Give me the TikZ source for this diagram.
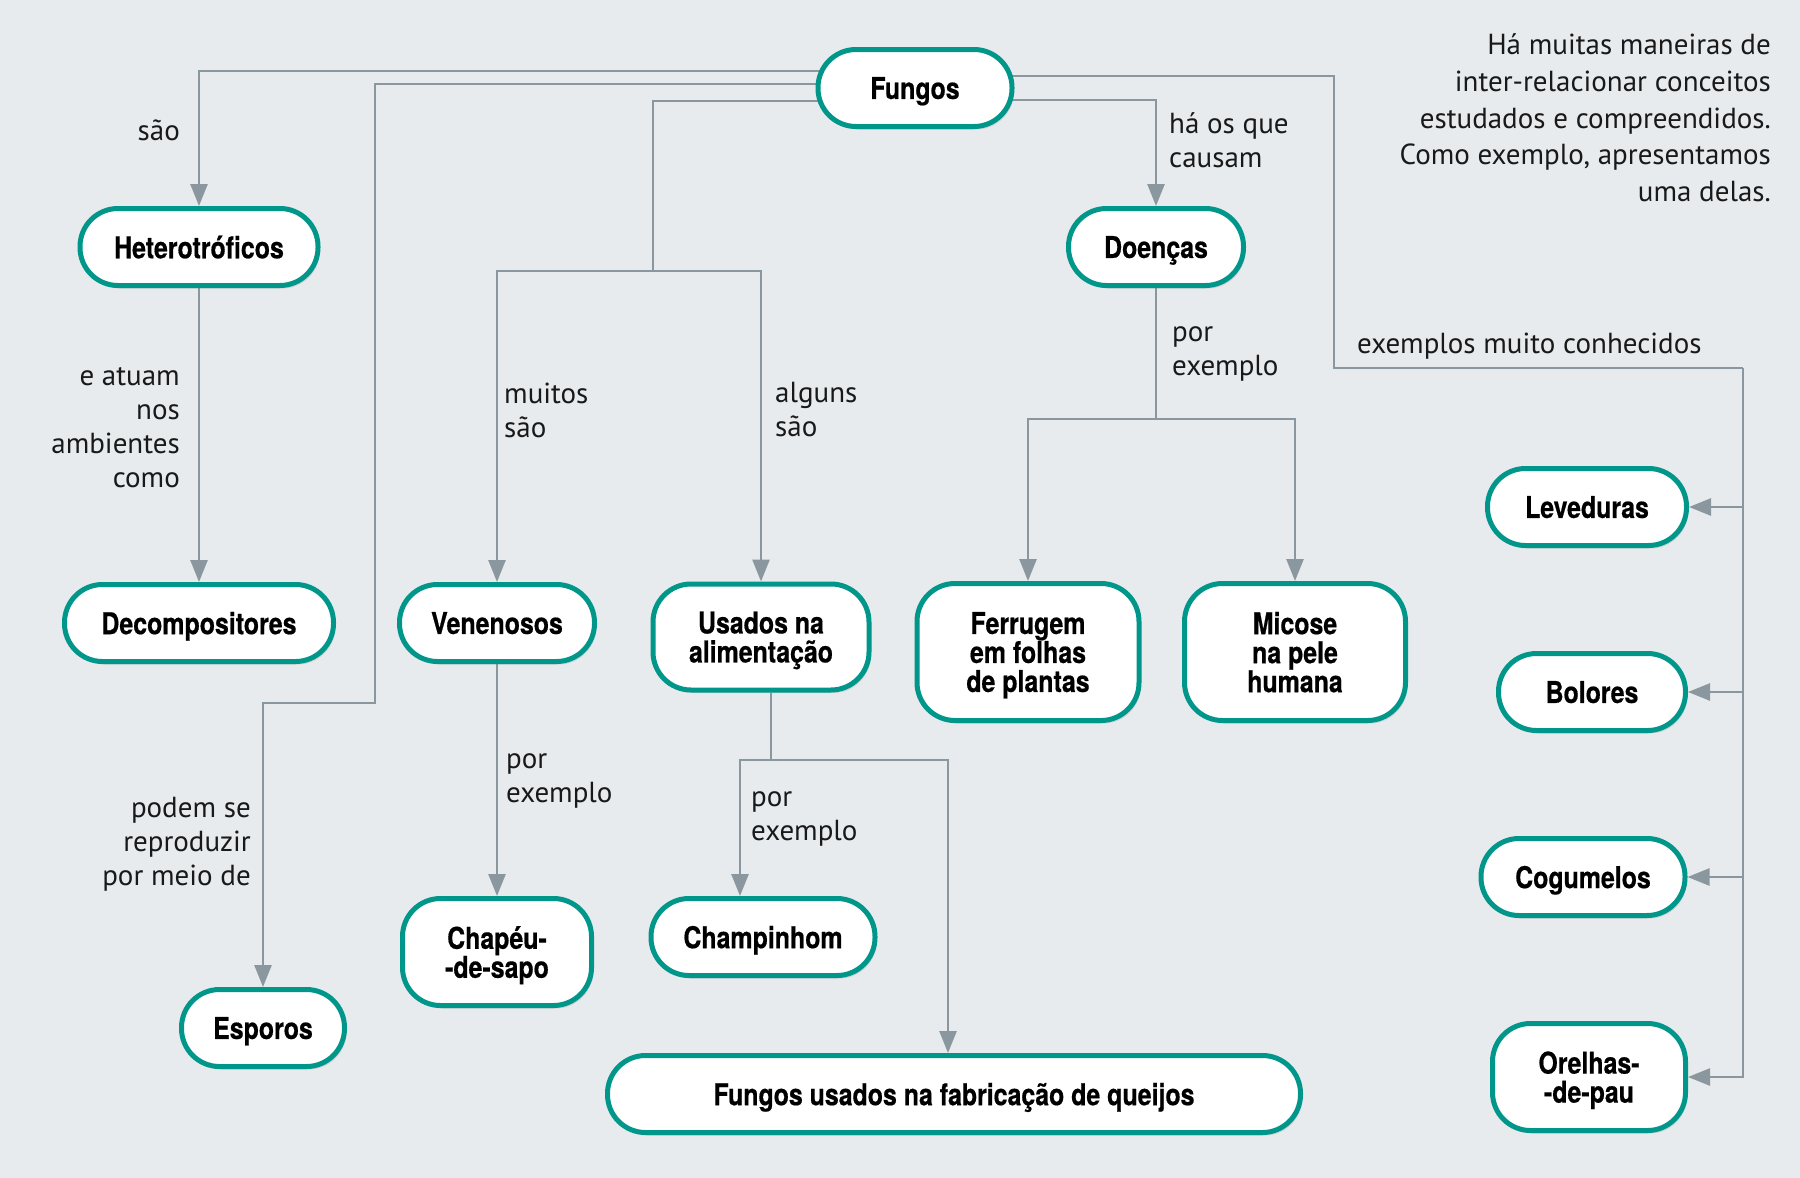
\documentclass[tikz,border=0pt]{standalone}
\usepackage{fontspec}
\setmainfont{PT Sans}
\newfontfamily\boxfont[FakeStretch=0.83, FakeBold=0.5]{TeX Gyre Heros}
\usetikzlibrary{shapes,arrows.meta,shadows,positioning}
\definecolor{fundo}{RGB}{232,235,238}
\definecolor{verde}{RGB}{0,151,138}
\definecolor{cinza}{RGB}{138,151,158}
\pgfdeclarelayer{fundo}
\pgfsetlayers{fundo,main}
\tikzstyle{conceito} = [rectangle, draw=verde, line width=5pt, fill=white,
    rounded corners=38pt, minimum height=77pt, align=center, text depth=0pt,
    font=\boxfont\bfseries\fontsize{30}{29}\selectfont,
    drop shadow={shadow xshift=2pt, shadow yshift=-3pt, opacity=0.25}]
\tikzstyle{rotulo} = [font=\fontsize{29}{34}\selectfont, text=black!90, inner sep=0pt]
\tikzstyle{ligacao} = [draw=cinza, line width=2.6pt]
\tikzstyle{linha} = [ligacao, -{Triangle[length=22pt,width=17pt]}]

\begin{document}
\begin{tikzpicture}[x=1pt, y=-1pt]
\useasboundingbox (0,0) rectangle (1800,1178);

\node [conceito, minimum width=194pt] (fungos) at (915,88) {Fungos};
\node [conceito, minimum width=238pt] (hetero) at (199,247) {Heterotróficos};
\node [conceito, minimum width=269pt] (decomp) at (199,623) {Decompositores};
\node [conceito, minimum width=163pt] (esporos) at (263,1028) {Esporos};
\node [conceito, minimum width=195pt] (venenosos) at (497,623) {Venenosos};
\node [conceito, minimum width=189pt, minimum height=107pt] (chapeu) at (497,952) {Chapéu-\\-de-sapo};
\node [conceito, minimum width=216pt, minimum height=106pt] (usados) at (761,637) {Usados na\\alimentação};
\node [conceito, minimum width=224pt] (champ) at (763,937) {Champinhom};
\node [conceito, minimum width=693pt] (queijos) at (954,1094) {Fungos usados na fabricação de queijos};
\node [conceito, minimum width=175pt] (doencas) at (1156,247) {Doenças};
\node [conceito, minimum width=222pt, minimum height=137pt] (ferrugem) at (1028,652) {Ferrugem\\em folhas\\de plantas};
\node [conceito, minimum width=221pt, minimum height=137pt] (micose) at (1295,652) {Micose\\na pele\\humana};
\node [conceito, minimum width=199pt] (leveduras) at (1587,507) {Leveduras};
\node [conceito, minimum width=187pt] (bolores) at (1592,692) {Bolores};
\node [conceito, minimum width=204pt] (cogumelos) at (1583,877) {Cogumelos};
\node [conceito, minimum width=193pt, minimum height=107pt] (orelhas) at (1589,1077) {Orelhas-\\-de-pau};

\node [rotulo, anchor=east, align=right] (lsao) at (180,130) {são};
\node [rotulo, anchor=east, align=right] (latuam) at (180,428) {e atuam\\nos\\ambientes\\como};
\node [rotulo, anchor=east, align=right] (lpodem) at (251,844) {podem se\\reproduzir\\por meio de};
\node [rotulo, anchor=west, align=left] (lmuitos) at (504,410) {muitos\\são};
\node [rotulo, anchor=west, align=left] (lalguns) at (775,410) {alguns\\são};
\node [rotulo, anchor=west, align=left] (lexven) at (506,781) {por\\exemplo};
\node [rotulo, anchor=west, align=left] (lexusa) at (751,819) {por\\exemplo};
\node [rotulo, anchor=west, align=left] (lcausam) at (1169,140) {há os que\\causam};
\node [rotulo, anchor=west, align=left] (lexdoe) at (1172,354) {por\\exemplo};
\node [rotulo, anchor=west] (lconhecidos) at (1357,346) {exemplos muito conhecidos};
\node [rotulo, anchor=east, align=right, font=\fontsize{29}{36.7}\selectfont] (nota) at (1771,118)
    {Há muitas maneiras de\\inter-relacionar conceitos\\estudados e compreendidos.\\Como exemplo, apresentamos\\uma delas.};

\coordinate (desce) at (375,703);
\coordinate (ramo) at (653,271);
\coordinate (exa) at (1334,368);
\coordinate (exb) at (1743,368);
\coordinate (ramodoe) at (1156,419);
\coordinate (ramousa) at (771,760);

\begin{pgfonlayer}{fundo}
\fill [fundo] (0,0) rectangle (1800,1178);
\path [linha] ([yshift=17pt]fungos.center) -| (hetero.north);
\path [linha] ([yshift=4pt]fungos.center) -| (desce) -| (esporos.north);
\path [ligacao] ([yshift=-13pt]fungos.center) -| (ramo);
\path [linha] (ramo) -| (venenosos.north);
\path [linha] (ramo) -| (usados.north);
\path [linha] ([yshift=-12pt]fungos.center) -| (doencas.north);
\path [ligacao] ([yshift=12pt]fungos.center) -| (exa) -- (exb);
\path [linha] (exb) |- (leveduras.east);
\path [linha] (exb) |- (bolores.east);
\path [linha] (exb) |- (cogumelos.east);
\path [linha] (exb) |- (orelhas.east);
\path [linha] (hetero.south) -- (decomp.north);
\path [linha] (venenosos.south) -- (chapeu.north);
\path [ligacao] (ramodoe |- doencas.south) -- (ramodoe);
\path [linha] (ramodoe) -| (ferrugem.north);
\path [linha] (ramodoe) -| (micose.north);
\path [ligacao] (ramousa |- usados.south) -- (ramousa);
\path [linha] (ramousa) -| ([xshift=-23pt]champ.north);
\path [linha] (ramousa) -| ([xshift=-6pt]queijos.north);
\end{pgfonlayer}
\end{tikzpicture}
\end{document}
